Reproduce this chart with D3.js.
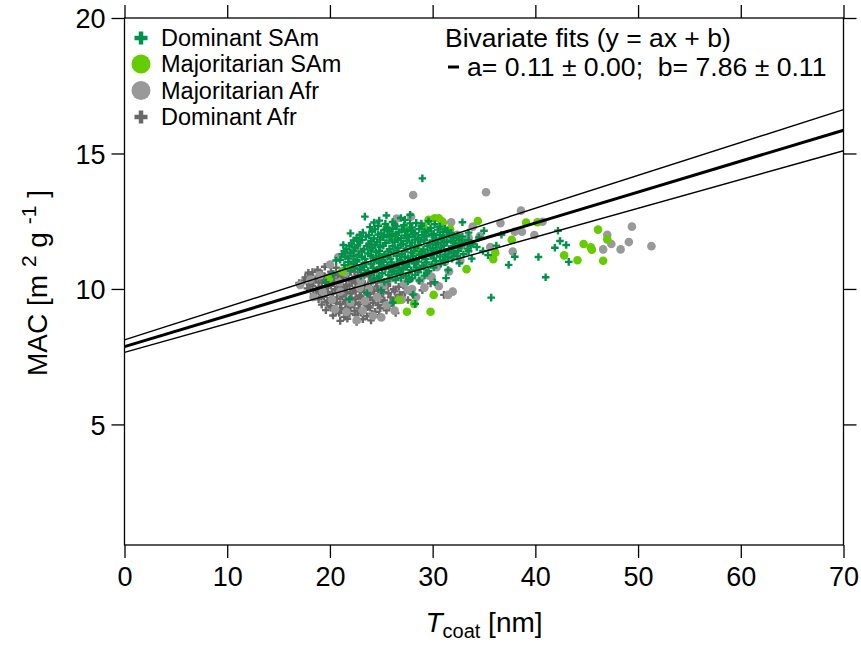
<!DOCTYPE html>
<html>
<head>
<meta charset="utf-8">
<script src="https://cdn.jsdelivr.net/npm/d3@7"></script>
<style>
  body { margin: 0; background: #fff; }
  svg { display: block; font-family: "Liberation Sans", Arial, sans-serif; }
</style>
</head>
<body>
<svg id="chart" width="861" height="646"></svg>
<script>
// Series values: [Tcoat (nm), MAC (m2/g)]
const dominantSAm = [
  [24.8,12.52],[26.1,12.47],[27.3,12.55],[28.4,12.44],[29.6,12.50],[26.9,12.62],
  [23.9,12.28],[24.7,12.33],[25.6,12.26],[26.5,12.31],[27.2,12.35],[28.0,12.27],[28.9,12.32],[29.8,12.25],[30.7,12.30],
  [23.2,12.08],[24.1,12.12],[25.0,12.05],[25.8,12.14],[26.7,12.09],[27.5,12.13],[28.3,12.06],[29.2,12.11],[30.1,12.04],[31.0,12.10],[31.8,12.07],
  [22.6,11.88],[23.5,11.93],[24.3,11.86],[25.2,11.91],[26.0,11.95],[26.9,11.87],[27.7,11.92],[28.6,11.89],[29.4,11.94],[30.3,11.86],[31.1,11.91],[32.0,11.88],[32.9,11.93],
  [22.1,11.68],[22.9,11.72],[23.8,11.66],[24.6,11.73],[25.4,11.69],[26.3,11.74],[27.1,11.67],[28.0,11.71],[28.8,11.75],[29.7,11.66],[30.5,11.70],[31.4,11.73],[32.2,11.68],[33.1,11.72],[33.9,11.66],
  [21.6,11.48],[22.4,11.53],[23.3,11.46],[24.1,11.51],[24.9,11.55],[25.8,11.47],[26.6,11.52],[27.4,11.49],[28.3,11.54],[29.1,11.46],[30.0,11.50],[30.8,11.53],[31.6,11.47],[32.5,11.52],[33.4,11.49],[34.3,11.55],
  [21.2,11.28],[22.0,11.33],[22.8,11.26],[23.7,11.31],[24.5,11.35],[25.3,11.27],[26.2,11.32],[27.0,11.29],[27.9,11.34],[28.7,11.26],[29.5,11.30],[30.4,11.33],[31.2,11.27],[32.1,11.32],[33.0,11.28],
  [21.0,11.08],[21.8,11.13],[22.6,11.06],[23.4,11.11],[24.2,11.15],[25.1,11.07],[25.9,11.12],[26.8,11.09],[27.6,11.14],[28.4,11.06],[29.3,11.10],[30.1,11.13],[31.0,11.07],[31.9,11.12],
  [21.4,10.88],[22.3,10.93],[23.1,10.86],[24.0,10.91],[24.8,10.95],[25.6,10.87],[26.5,10.92],[27.3,10.89],[28.2,10.94],[29.0,10.86],[29.9,10.90],[30.8,10.93],
  [22.0,10.68],[22.9,10.73],[23.7,10.66],[24.6,10.71],[25.4,10.75],[26.2,10.67],[27.1,10.72],[27.9,10.69],[28.8,10.74],[29.6,10.66],
  [23.0,10.48],[23.9,10.53],[24.8,10.46],[25.7,10.51],[26.5,10.55],[27.4,10.47],[28.3,10.52],[29.2,10.49],
  [24.2,10.30],[25.3,10.26],[26.4,10.33],[27.6,10.28],[28.7,10.31],
  // in-between marks that fill the blob
  [25.4,12.40],[26.3,12.38],[27.8,12.42],[28.9,12.41],[30.2,12.39],[31.2,12.22],
  [24.4,12.20],[25.3,12.18],[26.1,12.22],[27.0,12.19],[27.9,12.17],[28.7,12.21],[29.6,12.16],[30.5,12.19],[31.4,12.15],
  [22.9,12.00],[23.8,11.98],[24.7,12.01],[25.6,11.99],[26.4,12.02],[27.3,11.97],[28.1,12.01],[29.0,11.99],[29.9,12.00],[30.7,11.98],[31.6,12.00],[32.4,11.97],
  [22.3,11.79],[23.1,11.81],[24.0,11.78],[24.9,11.82],[25.8,11.79],[26.6,11.81],[27.5,11.78],[28.3,11.82],[29.2,11.80],[30.0,11.79],[30.9,11.82],[31.8,11.79],[32.6,11.81],[33.5,11.80],
  [21.9,11.59],[22.7,11.61],[23.6,11.58],[24.4,11.62],[25.2,11.60],[26.1,11.58],[26.9,11.62],[27.8,11.59],[28.6,11.61],[29.5,11.58],[30.3,11.62],[31.1,11.60],[32.0,11.58],[32.8,11.61],[33.7,11.59],
  [21.4,11.39],[22.3,11.41],[23.1,11.38],[24.0,11.42],[24.8,11.40],[25.7,11.38],[26.5,11.42],[27.3,11.39],[28.2,11.41],[29.0,11.38],[29.9,11.42],[30.7,11.40],[31.6,11.38],[32.5,11.41],[33.5,11.39],
  [21.5,11.19],[22.3,11.21],[23.1,11.18],[24.0,11.22],[24.8,11.20],[25.6,11.18],[26.5,11.22],[27.3,11.19],[28.1,11.21],[29.0,11.18],[29.8,11.22],[30.7,11.20],[31.5,11.18],[32.4,11.21],
  [21.8,10.99],[22.6,11.01],[23.5,10.98],[24.3,11.02],[25.2,11.00],[26.0,10.98],[26.9,11.02],[27.7,10.99],[28.6,11.01],[29.4,10.98],[30.3,11.02],[31.2,11.00],
  [22.4,10.79],[23.3,10.81],[24.2,10.78],[25.0,10.82],[25.8,10.80],[26.7,10.78],[27.5,10.82],[28.4,10.79],[29.2,10.81],[30.1,10.79],
  [23.4,10.59],[24.3,10.61],[25.1,10.58],[26.0,10.62],[26.9,10.60],[27.7,10.58],[28.6,10.61],[29.4,10.60],
  [24.6,10.40],[25.8,10.38],[26.9,10.41],[28.0,10.39],
  // loose marks around the blob
  [23.4,12.67],[22.8,11.78],[24.3,12.45],[25.5,12.71],[27.8,12.74],[22.0,12.05],[21.3,11.62],[20.6,11.05],
  [32.9,12.46],[33.5,12.08],[34.5,11.90],[35.0,12.15],[36.7,12.00],[34.9,11.40],[33.8,11.12],[32.6,10.95],[31.5,10.70],
  [29.0,14.08],[35.7,9.68],[41.0,10.43],[42.2,12.15],[42.4,11.77],[41.9,11.52],[43.0,11.62],[43.25,11.00],
  [40.3,11.18],[38.0,11.19],[37.4,10.89],[36.2,11.60],[35.4,11.25],
  [28.1,9.79],[28.3,9.45],[26.1,9.50],[21.9,9.62],[23.6,9.85],[30.2,10.25],[20.3,10.55],[19.6,10.25],[25.0,9.95],[31.3,10.40]
];

const majoritarianSAm = [
  [39.1,12.45],[40.2,12.46],[37.7,11.81],[46.1,12.19],[47.0,11.83],[44.7,11.66],[45.4,11.54],[45.5,11.45],
  [42.8,11.24],[44.1,11.06],[46.6,11.04],[34.4,12.51],[35.9,11.10],[36.1,11.34],[33.3,10.73],
  [30.1,9.78],[27.5,9.16],[29.8,9.16],[26.7,9.59],[28.2,9.45],[25.5,12.24],[30.2,12.61],[30.6,12.61],
  [29.1,12.30],[31.7,12.20],[29.6,12.55],[31.0,12.45],[19.9,10.39],[22.0,10.82],[21.2,10.65],
  [27.4,12.20],[26.2,11.95],[32.6,11.75],[28.6,11.40],[24.8,11.20]
];

const majoritarianAfr = [
  [28.1,13.47],[35.2,13.57],[38.6,12.89],[27.9,12.67],[31.8,12.46],[20.8,11.17],[17.1,10.15],
  [38.7,12.11],[39.9,11.99],[37.8,11.38],[40.7,12.48],[31.96,9.90],[31.5,9.78],[36.6,12.43],[38.0,12.11],
  [47.0,12.00],[47.4,11.66],[46.6,11.46],[48.3,11.46],[49.1,11.73],[49.4,12.30],[51.3,11.58],
  [19.0,10.50],[20.0,10.90],[21.5,10.60],[22.3,11.00],[23.0,10.30],[23.8,10.00],[24.6,9.70],[25.5,9.40],
  [26.3,9.20],[27.0,9.60],[21.0,9.90],[22.0,9.50],[23.2,9.20],[24.2,9.00],[20.2,9.60],[19.3,9.90],
  [18.4,9.70],[25.2,10.10],[26.0,10.40],[27.2,10.20],[28.0,10.00],[28.8,10.30],[29.6,10.50],[30.4,10.80],
  [31.2,11.00],[32.0,11.30],[32.8,11.60],[33.5,11.90],[31.0,11.70],[30.2,11.40],[30.6,10.10],[33.9,12.30],
  [32.4,12.00],[30.9,12.50],[26.5,12.60],[24.0,11.60],[22.7,11.45],[21.8,11.30],[25.0,8.95],[22.6,8.85],
  [20.5,9.25],[34.6,11.95],[35.6,11.55],[27.6,9.95],[29.2,10.05],[26.6,10.75],[23.4,9.55],[21.6,9.15],
  [29.9,10.45],[31.6,10.65],[32.7,11.05],[28.4,9.70],[20.9,10.25],[18.1,10.35],[22.9,10.05]
];

const dominantAfr = [
  [19.5,10.82],[20.6,10.78],[22.0,10.85],
  [18.3,10.62],[19.2,10.57],[20.1,10.64],[21.0,10.59],[22.4,10.63],[23.5,10.58],
  [17.6,10.42],[18.6,10.37],[19.5,10.44],[20.4,10.39],[21.3,10.43],[22.2,10.36],[23.1,10.41],[24.3,10.38],
  [17.0,10.22],[18.0,10.17],[18.9,10.24],[19.8,10.19],[20.7,10.23],[21.6,10.16],[22.5,10.21],[23.4,10.18],[24.5,10.24],[25.6,10.19],
  [17.8,10.02],[18.7,9.97],[19.6,10.04],[20.5,9.99],[21.4,10.03],[22.3,9.96],[23.2,10.01],[24.1,9.98],[25.0,10.04],[26.2,9.99],[27.4,10.03],
  [18.4,9.82],[19.3,9.77],[20.2,9.84],[21.1,9.79],[22.0,9.83],[22.9,9.76],[23.8,9.81],[24.7,9.78],[25.7,9.84],[26.8,9.79],[28.0,9.83],[31.1,9.78],
  [18.9,9.62],[19.8,9.57],[20.7,9.64],[21.6,9.59],[22.5,9.63],[23.4,9.56],[24.3,9.61],[25.3,9.58],[26.4,9.64],[27.6,9.59],
  [19.2,9.42],[20.1,9.37],[21.0,9.44],[21.9,9.39],[22.8,9.43],[23.7,9.36],[24.7,9.41],[25.8,9.38],[26.4,9.11],
  [19.6,9.22],[20.6,9.17],[21.5,9.24],[22.4,9.19],[23.4,9.23],[24.4,9.16],[25.5,9.21],
  [20.3,9.02],[21.4,8.97],[22.5,9.04],[23.6,8.99],[24.8,9.03],
  [21.0,8.82],[22.6,8.78],[24.0,8.84],
  [17.9,10.60],[29.0,9.95],[29.8,10.20],[27.8,10.35],
  // in-between marks
  [18.8,10.71],[21.5,10.72],[23.0,10.70],
  [18.1,10.51],[19.0,10.48],[19.9,10.52],[20.8,10.49],[21.8,10.53],[22.7,10.50],[23.8,10.47],
  [17.5,10.31],[18.4,10.29],[19.4,10.32],[20.3,10.28],[21.2,10.31],[22.1,10.29],[23.0,10.32],[24.0,10.28],[25.0,10.31],
  [18.3,10.11],[19.2,10.09],[20.1,10.12],[21.0,10.08],[21.9,10.11],[22.8,10.09],[23.7,10.12],[24.6,10.09],[25.6,10.11],[26.7,10.08],
  [18.9,9.91],[19.8,9.89],[20.7,9.92],[21.6,9.88],[22.5,9.91],[23.4,9.89],[24.3,9.92],[25.2,9.89],[26.3,9.91],[27.3,9.88],
  [19.4,9.71],[20.3,9.69],[21.2,9.72],[22.1,9.68],[23.0,9.71],[23.9,9.69],[24.9,9.72],[25.9,9.69],[27.0,9.70],
  [19.7,9.51],[20.6,9.49],[21.5,9.52],[22.4,9.48],[23.3,9.51],[24.2,9.49],[25.2,9.52],[26.2,9.49],
  [20.1,9.31],[21.1,9.29],[22.0,9.32],[22.9,9.28],[23.9,9.31],[24.9,9.29],
  [20.9,9.11],[21.9,9.09],[23.0,9.12],[24.1,9.09],
  [21.7,8.90],[23.2,8.88]
];

const legendNames = ["Dominant SAm", "Majoritarian SAm", "Majoritarian Afr", "Dominant Afr"];
const fitLines = [ // [b, a, stroke width]
  [7.87, 0.1141, 3],
  [8.12, 0.1214, 1.4],
  [7.66, 0.1063, 1.4]
];
const xTicks = [0, 10, 20, 30, 40, 50, 60, 70];
const yTicks = [5, 10, 15, 20];

const colSAmDom = "#00924a", colSAmMaj = "#66cc00", colAfrMaj = "#999999", colAfrDom = "#696969";

const svg = d3.select("#chart");
const mLeft = 124.5, mRight = 843.5, mTop = 18, mBottom = 545;

const x = d3.scaleLinear().domain([0, 70]).range([mLeft, mRight]);
const y = d3.scaleLinear().domain([0.55, 20]).range([mBottom, mTop]);

// plus marker path
function plus(s) {
  return "M" + (-s) + ",0H" + s + "M0," + (-s) + "V" + s;
}

// axes with outward ticks on all sides
const tickFont = 27;
const gL = svg.append("g").attr("transform", "translate(" + mLeft + ",0)")
  .call(d3.axisLeft(y).tickValues(yTicks).tickSize(13).tickPadding(6));
const gB = svg.append("g").attr("transform", "translate(0," + mBottom + ")")
  .call(d3.axisBottom(x).tickValues(xTicks).tickSize(13).tickPadding(9));
const gT = svg.append("g").attr("transform", "translate(0," + mTop + ")")
  .call(d3.axisTop(x).tickValues(xTicks).tickSize(13).tickFormat(""));
const gR = svg.append("g").attr("transform", "translate(" + mRight + ",0)")
  .call(d3.axisRight(y).tickValues(yTicks).tickSize(13).tickFormat(""));

[gL, gB, gT, gR].forEach(g => {
  g.select(".domain").remove();
  g.selectAll(".tick line").attr("stroke", "#000").attr("stroke-width", 1.3);
  g.selectAll(".tick text").attr("fill", "#000").attr("font-size", tickFont)
    .attr("font-family", "'Liberation Sans', Arial, sans-serif");
});
gL.selectAll(".tick text").attr("dy", "0.36em");

// frame
svg.append("rect")
  .attr("x", mLeft).attr("y", mTop)
  .attr("width", mRight - mLeft).attr("height", mBottom - mTop)
  .attr("fill", "none").attr("stroke", "#000").attr("stroke-width", 1.3);

const plotG = svg.append("g");

// African points first (dark plus under light circles), South American on top
plotG.append("g").selectAll("path").data(dominantAfr).join("path")
  .attr("transform", d => "translate(" + x(d[0]) + "," + y(d[1]) + ")")
  .attr("d", plus(3.8)).attr("stroke", colAfrDom).attr("stroke-width", 2.4);

plotG.append("g").selectAll("circle").data(majoritarianAfr).join("circle")
  .attr("cx", d => x(d[0])).attr("cy", d => y(d[1])).attr("r", 4.3)
  .attr("fill", colAfrMaj);

plotG.append("g").selectAll("circle").data(majoritarianSAm).join("circle")
  .attr("cx", d => x(d[0])).attr("cy", d => y(d[1])).attr("r", 4.3)
  .attr("fill", colSAmMaj);

plotG.append("g").selectAll("path").data(dominantSAm).join("path")
  .attr("transform", d => "translate(" + x(d[0]) + "," + y(d[1]) + ")")
  .attr("d", plus(3.8)).attr("stroke", colSAmDom).attr("stroke-width", 2.4);

// fit lines
fitLines.forEach(f => {
  svg.append("line")
    .attr("x1", x(0)).attr("y1", y(f[0]))
    .attr("x2", x(70)).attr("y2", y(f[0] + f[1] * 70))
    .attr("stroke", "#000").attr("stroke-width", f[2]);
});

// legend
const legendRows = [38, 64, 90.5, 117];
const legendG = svg.append("g").attr("font-size", 23.5);
legendNames.forEach((name, i) => {
  const ly = legendRows[i];
  if (i === 0 || i === 3) {
    legendG.append("path")
      .attr("transform", "translate(141," + ly + ")")
      .attr("d", plus(6.5))
      .attr("stroke", i === 0 ? colSAmDom : colAfrDom).attr("stroke-width", 4.5);
  } else {
    legendG.append("circle").attr("cx", 141).attr("cy", ly).attr("r", 9.5)
      .attr("fill", i === 1 ? colSAmMaj : colAfrMaj);
  }
  legendG.append("text").attr("x", 161).attr("y", ly).attr("dy", "0.36em").text(name);
});

// fit annotation
svg.append("text").attr("x", 445).attr("y", 47).attr("font-size", 26.5)
  .text("Bivariate fits (y = ax + b)");
svg.append("line").attr("x1", 448).attr("x2", 459).attr("y1", 67).attr("y2", 67)
  .attr("stroke", "#000").attr("stroke-width", 3);
svg.append("text").attr("x", 467).attr("y", 76).attr("font-size", 26.6)
  .attr("xml:space", "preserve")
  .text("a= 0.11 \u00b1 0.00;  b= 7.86 \u00b1 0.11");

// axis titles
const yTitle = svg.append("text")
  .attr("transform", "translate(47,283) rotate(-90)")
  .attr("text-anchor", "middle").attr("font-size", 28);
yTitle.append("tspan").text("MAC [m ");
yTitle.append("tspan").attr("dy", -11).attr("font-size", 21).text("2");
yTitle.append("tspan").attr("dy", 11).text(" g ");
yTitle.append("tspan").attr("dy", -11).attr("font-size", 21).text("-1");
yTitle.append("tspan").attr("dy", 11).text(" ]");

const xTitle = svg.append("text")
  .attr("x", 484).attr("y", 632).attr("text-anchor", "middle").attr("font-size", 28);
xTitle.append("tspan").attr("font-style", "italic").text("T");
xTitle.append("tspan").attr("dy", 6).attr("font-size", 20).text("coat");
xTitle.append("tspan").attr("dy", -6).text(" [nm]");
</script>
</body>
</html>
